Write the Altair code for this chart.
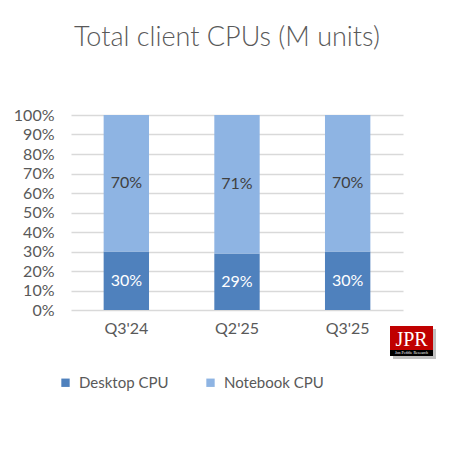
import altair as alt
import pandas as pd

quarters = ["Q3'24", "Q2'25", "Q3'25"]
desktop = [30, 29, 30]
notebook = [70, 71, 70]
series = ["Desktop CPU", "Notebook CPU"]
colors = ["#4F81BD", "#8EB4E3"]
y_ticks = [0, 10, 20, 30, 40, 50, 60, 70, 80, 90, 100]

rows = []
for i, q in enumerate(quarters):
    rows.append({"quarter": q, "series": series[0], "value": desktop[i], "ord": 0})
    rows.append({"quarter": q, "series": series[1], "value": notebook[i], "ord": 1})
df = pd.DataFrame(rows)

FONT = "Lato"

base = alt.Chart(df).transform_stack(
    stack="value", groupby=["quarter"], sort=[alt.SortField("ord")], as_=["y0", "y1"]
).transform_calculate(
    mid="(datum.y0 + datum.y1) / 2", label="datum.value + '%'"
)

xaxis = alt.Axis(labelAngle=0, labelFontSize=16, labelColor="#595959",
                 labelFont=FONT, ticks=False, domain=False, labelPadding=10, grid=False)
yaxis = alt.Axis(values=y_ticks, labelExpr="datum.value + '%'",
                 labelFontSize=16, labelColor="#595959", labelFont=FONT,
                 labelOverlap=False, labelBound=False,
                 ticks=False, domain=False, labelPadding=17,
                 gridColor="#D9D9D9", gridWidth=1.3)
xscale = alt.Scale(paddingInner=0.59, paddingOuter=0.295)
yscale = alt.Scale(domain=[0, 100])

bars = base.mark_bar().encode(
    x=alt.X("quarter:N", sort=quarters, title=None, scale=xscale, axis=xaxis),
    y=alt.Y("y0:Q", title=None, scale=yscale, axis=yaxis),
    y2="y1:Q",
    color=alt.Color("series:N", scale=alt.Scale(domain=series, range=colors),
                    legend=alt.Legend(title=None, orient="none", legendX=-13, legendY=260,
                                      direction="horizontal", symbolType="square",
                                      symbolSize=70, symbolStrokeWidth=0,
                                      labelFontSize=15, labelColor="#595959", labelFont=FONT,
                                      labelOffset=6, columnPadding=34)),
)

text = base.mark_text(fontSize=16, font=FONT).encode(
    x=alt.X("quarter:N", sort=quarters, title=None, scale=xscale, axis=None),
    y=alt.Y("mid:Q", title=None, scale=yscale, axis=None),
    text="label:N",
    color=alt.Color("series:N", scale=alt.Scale(domain=series, range=["#FFFFFF", "#404040"]),
                    legend=None),
)

one = pd.DataFrame({"a": [0]})
logo_shadow = alt.Chart(one).mark_rect(color="#A6A6A6", opacity=0.7).encode(
    x=alt.value(322), x2=alt.value(365), y=alt.value(214), y2=alt.value(244))
logo_red = alt.Chart(one).mark_rect(color="#C00000").encode(
    x=alt.value(319), x2=alt.value(362), y=alt.value(211), y2=alt.value(235))
logo_black = alt.Chart(one).mark_rect(color="#000000").encode(
    x=alt.value(319), x2=alt.value(362), y=alt.value(235), y2=alt.value(241))
logo_text = alt.Chart(pd.DataFrame({"t": ["JPR"]})).mark_text(
    font="Liberation Serif", fontSize=20, color="#FFFFFF", baseline="alphabetic").encode(
    x=alt.value(340.5), y=alt.value(231), text="t:N")
logo_sub = alt.Chart(pd.DataFrame({"t": ["Jon Peddie Research"]})).mark_text(
    font="Liberation Sans Narrow", fontSize=4, color="#FFFFFF", baseline="middle").encode(
    x=alt.value(340.5), y=alt.value(238.3), text="t:N")

chart = alt.layer(bars, text, logo_shadow, logo_red, logo_black, logo_text, logo_sub).resolve_scale(
    color="independent"
).resolve_axis(
    x="independent", y="independent"
).properties(
    width=332, height=195,
    padding={"left": 63, "top": 107, "right": 43, "bottom": 136},
    autosize=alt.AutoSizeParams(type="none"),
    background="#FFFFFF",
    title=alt.TitleParams("Total client CPUs (M units)", font=FONT, fontSize=27,
                          fontWeight=300, color="#595959", offset=55, dx=-10),
).configure_view(stroke=None)

chart.save("out.html", embed_options={"renderer": "svg", "actions": False})
